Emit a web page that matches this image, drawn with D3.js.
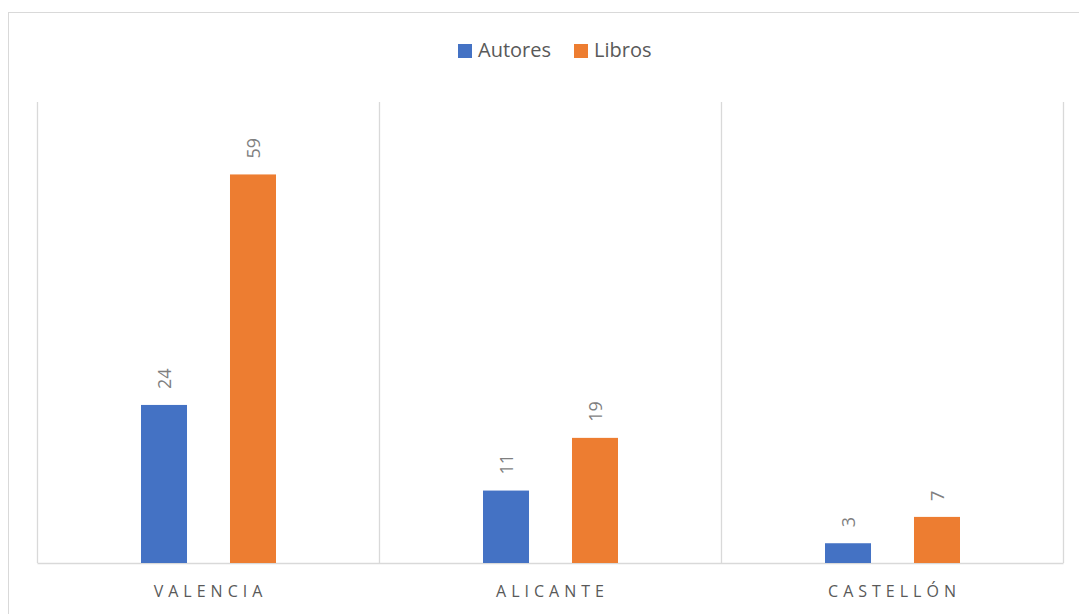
<!DOCTYPE html>
<html>
<head>
<meta charset="utf-8">
<script src="https://cdn.jsdelivr.net/npm/d3@7"></script>
<style>
  body { margin: 0; background: #fff; }
  svg { display: block; font-family: "Open Sans", "Liberation Sans", sans-serif; }
</style>
</head>
<body>
<div class="chart"></div>
<script>
"use strict";

// Chart values
const provinces = ["VALENCIA", "ALICANTE", "CASTELLÓN"];
const seriesNames = ["Autores", "Libros"];
const autores = [24, 11, 3];
const libros = [59, 19, 7];
const seriesColors = ["#4472C4", "#ED7D31"];

const data = provinces.map((p, i) => ({
  province: p,
  values: [
    { series: seriesNames[0], value: autores[i] },
    { series: seriesNames[1], value: libros[i] }
  ]
}));

const width = 1079;
const height = 614;

const svg = d3.select(".chart")
  .append("svg")
    .attr("width", width)
    .attr("height", height);

// Chart frame
svg.append("rect")
  .attr("x", 8.5)
  .attr("y", 12.5)
  .attr("width", 1200)
  .attr("height", 800)
  .attr("fill", "none")
  .attr("stroke", "#d9d9d9")
  .attr("stroke-width", 1);

// Scales
const xScale = d3.scaleBand()
  .domain(provinces)
  .range([37, 1063]);

const xInner = d3.scaleBand()
  .domain(seriesNames)
  .range([104, 239])
  .paddingInner(0.483);

const yScale = d3.scaleLinear()
  .domain([0, 70])
  .range([563, 102]);

const colorScale = d3.scaleOrdinal()
  .domain(seriesNames)
  .range(seriesColors);

// Vertical separators between categories
const boundaries = provinces.map(p => xScale(p)).concat([xScale.range()[1]]);
svg.selectAll("line.sep")
  .data(boundaries)
  .join("line")
    .attr("class", "sep")
    .attr("x1", d => Math.round(d) + 0.5)
    .attr("x2", d => Math.round(d) + 0.5)
    .attr("y1", yScale(70))
    .attr("y2", yScale(0))
    .attr("stroke", "#d9d9d9")
    .attr("stroke-width", 1.3);

// Baseline axis
const xAxis = d3.axisBottom(xScale).tickSize(0).tickPadding(0);
const axisG = svg.append("g")
  .attr("transform", `translate(0, ${yScale(0)})`)
  .call(xAxis);

axisG.select(".domain")
  .attr("stroke", "#d9d9d9")
  .attr("stroke-width", 1.5);

axisG.selectAll(".tick text")
  .attr("y", 34)
  .attr("dy", 0)
  .attr("dx", 2.5)
  .attr("fill", "#595959")
  .attr("font-family", "'Open Sans', sans-serif")
  .attr("font-size", 16)
  .attr("letter-spacing", "5px");

// Bars
const groups = svg.selectAll("g.province")
  .data(data)
  .join("g")
    .attr("class", "province")
    .attr("transform", d => `translate(${xScale(d.province) - 37}, 0)`);

groups.selectAll("rect")
  .data(d => d.values)
  .join("rect")
    .attr("x", d => 37 + xInner(d.series))
    .attr("y", d => yScale(d.value))
    .attr("width", xInner.bandwidth())
    .attr("height", d => yScale(0) - yScale(d.value))
    .attr("fill", d => colorScale(d.series));

// Rotated value labels
groups.selectAll("text.value")
  .data(d => d.values)
  .join("text")
    .attr("class", "value")
    .attr("transform", d => {
      const cx = 37 + xInner(d.series) + xInner.bandwidth() / 2;
      return `translate(${cx + 7}, ${yScale(d.value) - 16}) rotate(-90)`;
    })
    .attr("text-anchor", "start")
    .attr("fill", "#7f7f7f")
    .attr("font-size", 18)
    .text(d => d.value);

// Legend
const legendItems = [
  { name: seriesNames[0], x: 458 },
  { name: seriesNames[1], x: 574 }
];

const legend = svg.selectAll("g.legend")
  .data(legendItems)
  .join("g")
    .attr("class", "legend")
    .attr("transform", d => `translate(${d.x}, 44)`);

legend.append("rect")
  .attr("width", 14)
  .attr("height", 14)
  .attr("fill", d => colorScale(d.name));

legend.append("text")
  .attr("x", 20)
  .attr("y", 13)
  .attr("fill", "#595959")
  .attr("font-size", 20)
  .text(d => d.name);
</script>
</body>
</html>
